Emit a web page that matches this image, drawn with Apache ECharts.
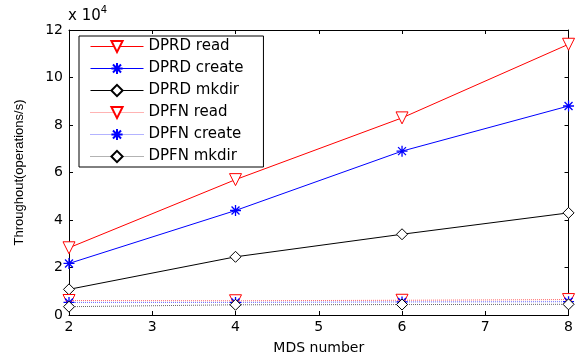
<!DOCTYPE html>
<html><head><meta charset="utf-8">
<script src="https://cdn.jsdelivr.net/npm/echarts@6/dist/echarts.min.js"></script>
<style>html,body{margin:0;padding:0;background:#fff}#c{width:576px;height:360px}</style>
</head><body><div id="c"></div>
<script>
const mdsNumbers = [2, 4, 6, 8];
const dprdRead = [28300, 57000, 83000, 114000];
const dprdCreate = [21700, 44000, 69000, 88000];
const dprdMkdir = [10800, 24500, 34000, 43000];
const dpfnRead = [6100, 6000, 6200, 6500];
const dpfnCreate = [5300, 5300, 5500, 5600];
const dpfnMkdir = [3500, 4300, 4400, 4500];
const yTicks = [0, 2, 4, 6, 8, 10, 12];
const seriesNames = ['DPRD read','DPRD create','DPRD mkdir','DPFN read','DPFN create','DPFN mkdir'];

const FONT = 'DejaVu Sans, sans-serif';
const AFONT = 'Liberation Sans, Arial, sans-serif';
const asterisk = 'path://M5,0L5,10M0,5L10,5M1.4,1.4L8.6,8.6M8.6,1.4L1.4,8.6';
const tri = 'path://M0,0L10,0L5,8.66Z';
const diamond = 'path://M5,0L10,5L5,10L0,5Z';

function mk(name, vals, color, symbol, size, dotted, asterik) {
  return {
    name: name, type: 'line', data: mdsNumbers.map((x,i)=>[x, vals[i]]),
    symbol: symbol, symbolSize: size, showSymbol: true,
    lineStyle: {color: color, width: 1, type: dotted ? 'dotted' : 'solid', opacity: dotted ? 0.6 : 1},
    itemStyle: asterik ? {color: 'rgba(0,0,0,0)', borderColor: color, borderWidth: 1.3}
                       : {color: '#fff', borderColor: color, borderWidth: 1},
    emphasis: {disabled: true},
    z: dotted ? 3 : 2
  };
}

const chart = echarts.init(document.getElementById('c'), null, {renderer: 'canvas'});
const axisCommon = {
  type: 'value', min: 2, max: 8, interval: 1,
  axisLine: {show: true, onZero: false, lineStyle: {color: '#000', width: 1}},
  axisTick: {show: true, inside: true, length: 4, lineStyle: {color: '#000'}},
  splitLine: {show: false}
};
chart.setOption({
  animation: false,
  backgroundColor: '#fff',
  grid: {left: 69, right: 4, top: 30, bottom: 42},
  xAxis: [
    Object.assign({}, axisCommon, {position: 'bottom', name: 'MDS number', nameLocation: 'middle', nameGap: 26,
      nameTextStyle: {fontFamily: FONT, fontSize: 14, color: '#000'},
      axisLabel: {fontFamily: FONT, fontSize: 14, color: '#000', margin: 5}}),
    Object.assign({}, axisCommon, {position: 'top', axisLabel: {show: false}})
  ],
  yAxis: [
    {type: 'value', min: 0, max: 120000, interval: 20000, position: 'left',
     axisLine: {show: true, lineStyle: {color: '#000'}},
     axisTick: {show: true, inside: true, length: 4, lineStyle: {color: '#000'}},
     splitLine: {show: false},
     axisLabel: {fontFamily: FONT, fontSize: 14, color: '#000', margin: 6,
       formatter: v => String(yTicks[Math.round(v/20000)])},
     name: 'Throughout(operations/s)', nameLocation: 'middle', nameGap: 43,
     nameTextStyle: {fontFamily: AFONT, fontSize: 13, color: '#000'}},
    {type: 'value', min: 0, max: 120000, interval: 20000, position: 'right',
     axisLine: {show: true, lineStyle: {color: '#000'}},
     axisTick: {show: true, inside: true, length: 4, lineStyle: {color: '#000'}},
     splitLine: {show: false}, axisLabel: {show: false}}
  ],
  legend: {
    orient: 'vertical', left: 79, top: 36,
    data: seriesNames,
    itemWidth: 53, itemHeight: 14, itemGap: 7,
    padding: [3, 20, 3, 11],
    borderColor: '#000', borderWidth: 1, backgroundColor: '#fff',
    textStyle: {fontFamily: FONT, fontSize: 15, color: '#000'},
    lineStyle: {width: 1},
    selectedMode: false
  },
  graphic: [{
    type: 'text', left: 68, top: 5,
    style: {text: '{a|x 10}{b|4}', rich: {
      a: {fontFamily: FONT, fontSize: 15, fill: '#000', verticalAlign: 'bottom'},
      b: {fontFamily: FONT, fontSize: 10, fill: '#000', verticalAlign: 'top', padding: [0,0,9,0]}
    }}
  }],
  series: [
    mk('DPRD read', dprdRead, '#ff0000', tri, 12, false, false),
    mk('DPRD create', dprdCreate, '#0000ff', asterisk, 11, false, true),
    mk('DPRD mkdir', dprdMkdir, '#000000', diamond, 11, false, false),
    mk('DPFN read', dpfnRead, '#ff0000', tri, 12, true, false),
    mk('DPFN create', dpfnCreate, '#0000ff', asterisk, 11, true, true),
    mk('DPFN mkdir', dpfnMkdir, '#000000', diamond, 11, true, false)
  ]
});
</script></body></html>
